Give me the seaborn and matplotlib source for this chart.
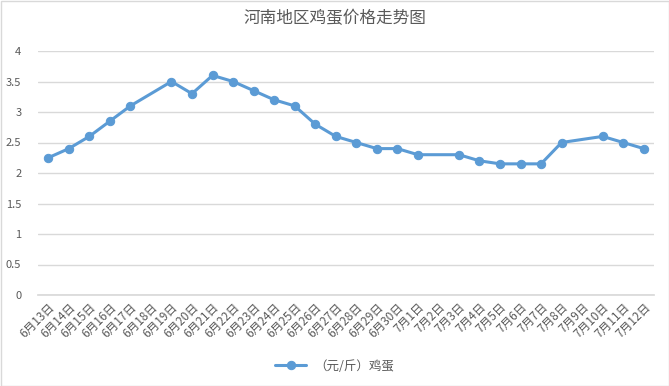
import numpy as np
import pandas as pd
import matplotlib
matplotlib.use("Agg")
import matplotlib.pyplot as plt
import seaborn as sns
from matplotlib.patches import Rectangle

categories = ["6月13日", "6月14日", "6月15日", "6月16日", "6月17日", "6月18日", "6月19日",
              "6月20日", "6月21日", "6月22日", "6月23日", "6月24日", "6月25日", "6月26日",
              "6月27日", "6月28日", "6月29日", "6月30日", "7月1日", "7月2日", "7月3日",
              "7月4日", "7月5日", "7月6日", "7月7日", "7月8日", "7月9日", "7月10日",
              "7月11日", "7月12日"]
prices = [2.25, 2.4, 2.6, 2.85, 3.1, np.nan, 3.5,
          3.3, 3.6, 3.5, 3.35, 3.2, 3.1, 2.8,
          2.6, 2.5, 2.4, 2.4, 2.3, np.nan, 2.3,
          2.2, 2.15, 2.15, 2.15, 2.5, np.nan, 2.6,
          2.5, 2.4]
series_name = "（元/斤）鸡蛋"
title = "河南地区鸡蛋价格走势图"
yticks = [0, 0.5, 1, 1.5, 2, 2.5, 3, 3.5, 4]

sns.set_theme(style="white")
plt.rcParams['font.family'] = ['Noto Sans CJK SC', 'DejaVu Sans']

df = pd.DataFrame({"pos": np.arange(len(categories)), "date": categories, "price": prices})
df = df.dropna()

fig = plt.figure(figsize=(6.69, 3.86), dpi=100)
ax = fig.add_axes([38 / 669, 1 - 295 / 386, (654 - 38) / 669, (295 - 51) / 386])

gray_text = "#595959"
line_color = "#5B9BD5"

sns.lineplot(data=df, x="pos", y="price", ax=ax, color=line_color, linewidth=2.2,
             marker="o", markersize=6, markeredgecolor=line_color, label=series_name)

ax.set_xlim(-0.5, len(categories) - 0.5)
ax.set_ylim(0, 4)
ax.set_yticks(yticks)
ax.set_yticklabels([f"{v:g}" for v in yticks], color=gray_text, fontsize=8)
ax.yaxis.grid(True, color="#D9D9D9", linewidth=1)
ax.set_axisbelow(True)

ax.set_xticks(np.arange(len(categories)))
ax.set_xticklabels(categories, rotation=45, ha="right", rotation_mode="anchor",
                   color=gray_text, fontsize=8.5)
ax.tick_params(axis="x", length=0, pad=4)
ax.tick_params(axis="y", length=0, pad=12)
# boundary tick marks
ax.set_xticks(np.arange(len(categories) + 1) - 0.5, minor=True)
ax.tick_params(axis="x", which="minor", length=5, color="#D9D9D9", width=1, direction="out")

for s in ["top", "right", "left"]:
    ax.spines[s].set_visible(False)
ax.spines["bottom"].set_color("#D9D9D9")
ax.set_xlabel("")
ax.set_ylabel("")

fig.suptitle(title, x=0.5, y=1 - 19 / 386, va="center", fontsize=12, color=gray_text)

leg = ax.legend(loc="center", bbox_to_anchor=(0.5, 1 - 366 / 386), bbox_transform=fig.transFigure,
                frameon=False, fontsize=9, handlelength=2.5, handletextpad=0.6)
for t in leg.get_texts():
    t.set_color(gray_text)

fig.patches.append(Rectangle((0.5 / 669, 0.5 / 386), 1 - 1 / 669, 1 - 1 / 386,
                             transform=fig.transFigure, fill=False,
                             edgecolor="#D9D9D9", linewidth=1))

fig.savefig("out.png", dpi=100, facecolor="white")
